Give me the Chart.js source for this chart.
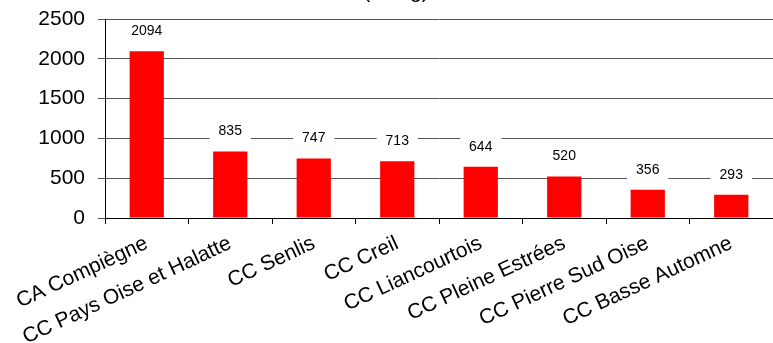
<!DOCTYPE html>
<html>
<head>
<meta charset="utf-8">
<script src="https://cdn.jsdelivr.net/npm/chart.js@4/dist/chart.umd.min.js"></script>
<style>
  html, body { margin: 0; padding: 0; background: #fff; }
  #wrap { width: 773px; height: 343px; position: relative; }
</style>
</head>
<body>
<div id="wrap"><canvas id="c"></canvas></div>
<script>
const categories = ["CA Compiègne", "CC Pays Oise et Halatte", "CC Senlis", "CC Creil", "CC Liancourtois", "CC Pleine Estrées", "CC Pierre Sud Oise", "CC Basse Automne"];
const values = [2094, 835, 747, 713, 644, 520, 356, 293];
const yTicks = [0, 500, 1000, 1500, 2000, 2500];
const titleText = "(en kg)";

const FONT = "'Liberation Sans', Arial, sans-serif";

const labelPlugin = {
  id: 'barLabels',
  afterDatasetsDraw(chart) {
    const ctx = chart.ctx;
    const meta = chart.getDatasetMeta(0);
    ctx.save();
    ctx.font = "14px " + FONT;
    ctx.textAlign = 'center';
    ctx.textBaseline = 'middle';
    meta.data.forEach((bar, i) => {
      const txt = String(values[i]);
      const w = ctx.measureText(txt).width + 18;
      const h = 20;
      const cx = bar.x;
      const cy = bar.y - 20;
      ctx.fillStyle = '#fff';
      ctx.fillRect(cx - w / 2, cy - h / 2, w, h);
      ctx.fillStyle = '#000';
      ctx.fillText(txt, cx, cy);
    });
    ctx.restore();
  }
};

const titlePlugin = {
  id: 'cutTitle',
  afterDraw(chart) {
    const ctx = chart.ctx;
    ctx.save();
    ctx.font = "21px " + FONT;
    ctx.textAlign = 'center';
    ctx.textBaseline = 'alphabetic';
    ctx.fillStyle = '#000';
    ctx.fillText(titleText, 396, -2);
    ctx.restore();
  }
};

new Chart(document.getElementById('c'), {
  type: 'bar',
  data: {
    labels: categories,
    datasets: [{
      data: values,
      backgroundColor: '#ff0000',
      borderWidth: 0,
      barPercentage: 0.41,
      categoryPercentage: 1.0
    }]
  },
  options: {
    responsive: true,
    maintainAspectRatio: false,
    animation: false,
    layout: { padding: { top: 19, right: 0, left: 0, bottom: 0 } },
    plugins: { legend: { display: false }, tooltip: { enabled: false }, title: { display: false } },
    scales: {
      x: {
        offset: true,
        grid: { display: true, drawOnChartArea: false, drawTicks: true, tickLength: 6, color: '#000', offset: true },
        border: { display: true, color: '#000', width: 1 },
        ticks: {
          color: '#000',
          font: { family: FONT, size: 21 },
          minRotation: 25, maxRotation: 25,
          autoSkip: false,
          padding: 7
        },
        afterFit(scale) { scale.height = 125; }
      },
      y: {
        min: 0, max: 2500,
        afterBuildTicks(scale) { scale.ticks = yTicks.map(v => ({ value: v })); },
        grid: { color: '#555', lineWidth: 1, drawTicks: true, tickLength: 7 },
        border: { display: true, color: '#000', width: 1 },
        ticks: {
          color: '#000',
          font: { family: FONT, size: 21, lineHeight: 0.5 },
          padding: 13,
          callback: (v) => String(v)
        },
        afterFit(scale) { scale.width = 105; }
      }
    }
  },
  plugins: [labelPlugin, titlePlugin]
});
</script>
</body>
</html>
